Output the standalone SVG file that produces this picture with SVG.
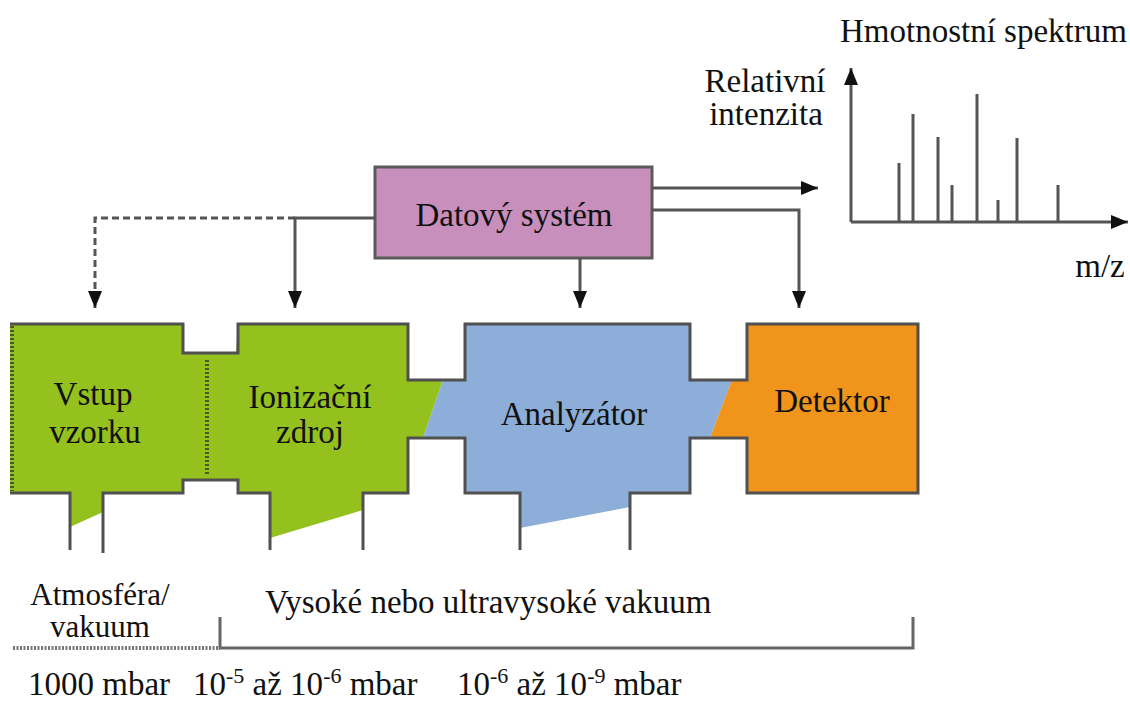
<svg xmlns="http://www.w3.org/2000/svg" width="1130" height="704" viewBox="0 0 1130 704">
  <style>
    text { font-size: 33px; fill: #111; }
    .sup { font-size: 22px; }
    .small { font-size: 31px; }
    .edge { fill: none; stroke: #505050; stroke-width: 3; stroke-linejoin: miter; }
    .wire { fill: none; stroke: #555; stroke-width: 3; }
    .dash { stroke-dasharray: 7 4; }
    .dots { fill: none; stroke: #4a5a20; stroke-width: 4; stroke-dasharray: 2 2; }
    .axis { fill: none; stroke: #555; stroke-width: 3; }
    .peak { fill: none; stroke: #555; stroke-width: 3; }
  </style>
  <defs>
    <marker id="arrow" markerUnits="userSpaceOnUse" markerWidth="18" markerHeight="14" refX="17" refY="7" orient="auto">
      <path d="M0,0 L17,7 L0,14 z" fill="#111"/>
    </marker>
  </defs>
  <rect width="1130" height="704" fill="#fff"/>

  <g font-family="Liberation Serif, Times New Roman, serif">
  <!-- mass spectrum plot -->
  <g id="spectrum">
    <text x="840" y="42">Hmotnostní spektrum</text>
    <text x="765" y="92" text-anchor="middle">Relativní</text>
    <text x="766" y="125" text-anchor="middle">intenzita</text>
    <text x="1100" y="277" text-anchor="middle">m/z</text>
    <path class="axis" d="M851,222 V68" marker-end="url(#arrow)"/>
    <path class="axis" d="M851,222 H1128" marker-end="url(#arrow)"/>
    <path class="peak" d="M899,222V163 M913,222V114 M938,222V137 M952,222V185 M977,222V94 M998,222V200 M1017,222V138 M1058,222V185"/>
  </g>

  <!-- data system -->
  <g id="data-system">
    <rect x="375" y="167" width="277" height="91" fill="#c88fbc" stroke="#5a5a5a" stroke-width="3"/>
    <text x="514" y="226" text-anchor="middle">Datový systém</text>
  </g>

  <!-- connectors -->
  <g id="connectors">
    <path class="wire" d="M375,218 H295 V308" marker-end="url(#arrow)"/>
    <path class="wire dash" d="M295,218 H95 V308" marker-end="url(#arrow)"/>
    <path class="wire" d="M580,258 V308" marker-end="url(#arrow)"/>
    <path class="wire" d="M652,188 H818" marker-end="url(#arrow)"/>
    <path class="wire" d="M652,210 H799 V308" marker-end="url(#arrow)"/>
  </g>

  <!-- sample inlet + ion source (shared green body) -->
  <g id="sample-inlet">
    <polygon fill="#95c11f" points="10,324 183,324 183,353 238,353 238,480 183,480 183,493 103,493 103,512 70,527 70,493 10,493"/>
    <path class="dots" d="M12,326 V491"/>
    <text x="93" y="405" text-anchor="middle">Vstup</text>
    <text x="95" y="443" text-anchor="middle">vzorku</text>
  </g>
  <g id="ion-source">
    <polygon fill="#95c11f" points="236,353 238,324 408,324 408,380 443,380 423,438 408,438 408,493 363,493 363,510 270,538 270,493 238,493 238,480 236,480"/>
    <path class="dots" d="M207,360 V476"/>
    <text x="310" y="408" text-anchor="middle">Ionizační</text>
    <text x="310" y="443" text-anchor="middle">zdroj</text>
  </g>

  <!-- analyzer -->
  <g id="analyzer">
    <polygon fill="#8caed8" points="443,380 465,380 465,324 690,324 690,380 732,380 710,438 690,438 690,493 630,493 630,507 520,528 520,493 465,493 465,438 423,438"/>
    <text x="574" y="425" text-anchor="middle">Analyzátor</text>
  </g>

  <!-- detector -->
  <g id="detector">
    <polygon fill="#f0941c" points="732,380 747,380 747,324 918,324 918,493 747,493 747,438 710,438"/>
    <text x="832" y="412" text-anchor="middle">Detektor</text>
  </g>

  <!-- vacuum chamber outline -->
  <g id="chamber-outline">
    <path class="edge" d="M10,324 H183 V353 H238 V324 H408 V380 H465 V324 H690 V380 H747 V324 H918 V493 H747 V438 H690 V493 H630 V550"/>
    <path class="edge" d="M520,550 V493 H465 V438 H408 V493 H363 V550"/>
    <path class="edge" d="M270,550 V493 H238 V480 H183 V493 H103 V553"/>
    <path class="edge" d="M70,550 V493 H10"/>
  </g>

  <!-- pressure scale -->
  <g id="pressure-scale">
    <text class="small" x="100" y="605" text-anchor="middle">Atmosféra/</text>
    <text class="small" x="100" y="637" text-anchor="middle">vakuum</text>
    <text x="265" y="613">Vysoké nebo ultravysoké vakuum</text>
    <path d="M13,648 H220" fill="none" stroke="#777" stroke-width="4" stroke-dasharray="2 1.5"/>
    <path d="M220,617 V648 H913 V617" fill="none" stroke="#666" stroke-width="3"/>
    <text x="28" y="695">1000 mbar</text>
    <text x="193" y="695">10<tspan class="sup" dy="-12">-5</tspan><tspan dy="12"> až 10</tspan><tspan class="sup" dy="-12">-6</tspan><tspan dy="12"> mbar</tspan></text>
    <text x="457" y="695">10<tspan class="sup" dy="-12">-6</tspan><tspan dy="12"> až 10</tspan><tspan class="sup" dy="-12">-9</tspan><tspan dy="12"> mbar</tspan></text>
  </g>
  </g>
</svg>
